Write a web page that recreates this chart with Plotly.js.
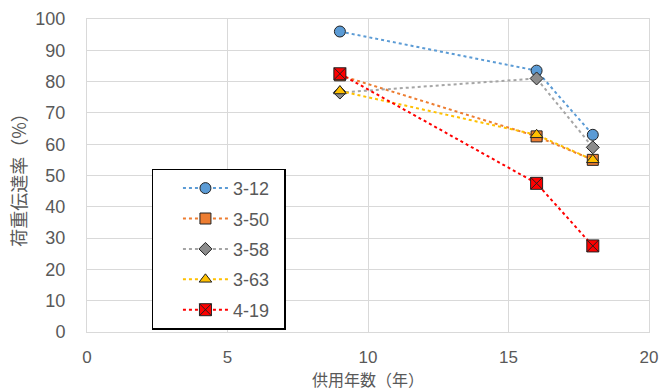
<!DOCTYPE html>
<html><head><meta charset="utf-8">
<script src="https://cdn.plot.ly/plotly-3.0.1.min.js"></script>
<style>body{margin:0}#c{width:672px;height:391px}</style>
</head><body><div id="c"></div>
<script>
const years = [9, 16, 18];
const names = ["3-12", "3-50", "3-58", "3-63", "4-19"];
const s312 = [96, 83.5, 63];
const s350 = [82, 62.5, 55];
const s358 = [76.5, 81, 59];
const s363 = [77, 63, 55];
const s419 = [82.5, 47.5, 27.5];
const xTicks = [0, 5, 10, 15, 20];
const yTicks = [0, 10, 20, 30, 40, 50, 60, 70, 80, 90, 100];

const series = [s312, s350, s358, s363, s419];
const lineColors = ["#5B9BD5", "#ED7D31", "#A5A5A5", "#FFC000", "#FF0000"];
const fillColors = ["#5B9BD5", "#ED7D31", "#8C8C8C", "#FFC000", "#FF0000"];
const symbols = ["circle", "square", "diamond", "triangle-up", "square-x"];
const sizes = [11, 11, 10, 11, 12];

const traces = series.map((ys, i) => ({
  x: years, y: ys, name: names[i] + "\u00a0\u00a0", type: "scatter", mode: "lines+markers",
  legendgroup: "g" + i,
  line: {color: lineColors[i], width: 2, dash: "dot"},
  marker: {symbol: symbols[i], size: sizes[i], color: fillColors[i], line: {color: "#222", width: 1}}
}));

const font = {family: "Liberation Sans, Arial, sans-serif", color: "#595959", size: 17};
const layout = {
  width: 672, height: 391,
  margin: {l: 87, r: 23, t: 19, b: 59},
  paper_bgcolor: "#fff", plot_bgcolor: "#fff",
  font: font,
  showlegend: true,
  legend: {x: 0.115, y: 0.522, xanchor: "left", yanchor: "top", bgcolor: "#fff",
    bordercolor: "#000", borderwidth: 1.3, font: {size: 18, color: "#595959", family: "Liberation Sans, Arial, sans-serif"},
    title: {text: "\u00a0\u00a0\u00a0", side: "left", font: {size: 18}},
    itemwidth: 45, tracegroupgap: 4},
  xaxis: {range: [0, 20], tickvals: xTicks, ticktext: xTicks.map(String), showgrid: true,
    gridcolor: "#d9d9d9", gridwidth: 1, zeroline: false, showline: true, linecolor: "#d9d9d9", mirror: true,
    ticks: "", ticklabelstandoff: 10, tickfont: {size: 17},
    title: {text: "供用年数（年）", font: {size: 16, family: "Noto Sans CJK JP", color: "#595959"}, standoff: 8}},
  yaxis: {range: [0, 100], tickvals: yTicks, ticktext: yTicks.map(String), showgrid: true,
    gridcolor: "#d9d9d9", gridwidth: 1, zeroline: false, showline: true, linecolor: "#d9d9d9", mirror: true,
    ticks: "", ticklabelstandoff: 17, tickfont: {size: 18},
    title: {text: "荷重伝達率（%）", font: {size: 18, family: "Noto Sans CJK JP", color: "#595959"}, standoff: 4}}
};
Plotly.newPlot("c", traces, layout, {displayModeBar: false, staticPlot: true});
</script></body></html>
